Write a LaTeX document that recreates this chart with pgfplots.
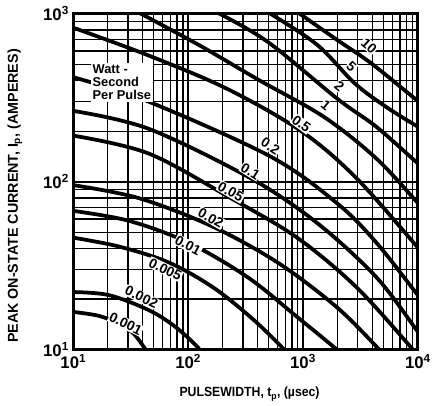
\documentclass[border=0pt]{standalone}
\usepackage{fontspec}
\setmainfont{Liberation Sans}
\usepackage{pgfplots}
\pgfplotsset{compat=1.18}
\usetikzlibrary{calc}
\pgfplotsset{curve/.style={black, solid, mark=none, line width=3.8bp, smooth, tension=0.55}}

\begin{document}
\begin{tikzpicture}
\begin{axis}[
    name=ax,
    scale only axis,
    width=348bp, height=339bp,
    xmode=log, ymode=log,
    xmin=10, xmax=10000, ymin=10, ymax=1000,
    grid=both,
    major grid style={black, line width=1.8bp},
    minor grid style={black, line width=1.3bp},
    axis line style={line width=2.8bp},
    major tick length=0pt, minor tick length=0pt,
    xtick={10,100,1000,10000},
    ytick={10,100,1000},
    xticklabels={10\textsuperscript{1},10\textsuperscript{2},10\textsuperscript{3},10\textsuperscript{4}},
    yticklabels={10\textsuperscript{1},10\textsuperscript{2},10\textsuperscript{3}},
    ticklabel style={font=\bfseries\fontsize{17}{17}\selectfont},
    xticklabel style={yshift=-1bp},
    yticklabel style={xshift=-1bp},
    clip=true,
]
% 10 W-s
\addplot[curve] coordinates {(887.9,1027.5) (1964.5,702.3) (3933,507.0) (10000,302.6) (12000,280)};
% 5
\addplot[curve] coordinates {(489.5,1027.5) (1320.6,656.4) (2807.8,386.4) (5298,278.8) (10000,212.5) (12000,198)};
% 2
\addplot[curve] coordinates {(174.3,1027.5) (489.5,683.4) (2003.9,310.9) (4344,212.5) (10000,128.6) (12000,118)};
% 1
\addplot[curve] coordinates {(30,1100) (122.0,656.4) (401.2,407.9) (1517.3,243.5) (4344,137.6) (10000,74.7) (12000,66)};
% 0.5
\addplot[curve] coordinates {(10,826.8) (45.22,565.1) (221.2,356.1) (980.4,198.6) (2921.4,104.9) (10000,40.5) (12000,35)};
% 0.2
\addplot[curve] coordinates {(10,419.2) (45.22,300) (519.4,141.4) (1964.5,74.7) (4344,43.4) (10000,21.1) (12000,18.5)};
% 0.1
\addplot[curve] coordinates {(10,264.1) (45.22,206.8) (349.3,104.9) (1320.6,56.9) (4344,27.0) (10000,12.77) (12000,11)};
% 0.05
\addplot[curve] coordinates {(10,188.1) (45.22,147.3) (234.9,79.9) (887.9,46.4) (2921.4,23.5) (9057,10) (10500,8.8)};
% 0.02
\addplot[curve] coordinates {(10,95.4) (37.07,79.9) (157.9,54.6) (596.9,33.1) (1964.5,17.9) (4612,10) (5400,8.8)};
% 0.01
\addplot[curve] coordinates {(10,67.0) (30.40,58.5) (100,43.4) (329.0,27.0) (887.9,15.65) (1964.5,10) (2300,8.8)};
% 0.005
\addplot[curve] coordinates {(10,46.4) (24.93,41.1) (67.24,33.1) (164.3,23.5) (363.4,15.24) (685.8,10) (800,8.8)};
% 0.002
\addplot[curve] coordinates {(10,22.0) (20.43,21.1) (45.22,17.2) (77.27,13.67) (122.0,10.27) (135,9)};
% 0.001
\addplot[curve] coordinates {(10,16.76) (16.75,15.87) (24.93,14.24) (33.57,12.43) (42.60,10) (46,9.2)};

\begin{scope}[every node/.style={font=\bfseries\fontsize{14}{14}\selectfont, fill=white, inner sep=0.8bp}]
\node[rotate=-42] at (rel axis cs:0.858,0.905) {10};
\node[rotate=-42] at (rel axis cs:0.807,0.843) {5};
\node[rotate=-40] at (rel axis cs:0.772,0.784) {2};
\node[rotate=-40] at (rel axis cs:0.733,0.728) {1};
\node[rotate=-36] at (rel axis cs:0.662,0.672) {0.5};
\node[rotate=-33] at (rel axis cs:0.572,0.606) {0.2};
\node[rotate=-32] at (rel axis cs:0.514,0.531) {0.1};
\node[rotate=-30] at (rel axis cs:0.457,0.470) {0.05};
\node[rotate=-30] at (rel axis cs:0.399,0.392) {0.02};
\node[rotate=-28] at (rel axis cs:0.333,0.310) {0.01};
\node[rotate=-26] at (rel axis cs:0.267,0.239) {0.005};
\node[rotate=-26] at (rel axis cs:0.198,0.156) {0.002};
\node[rotate=-26] at (rel axis cs:0.152,0.077) {0.001};
\end{scope}
\node[anchor=west, fill=white, align=left, inner sep=2bp,
      font=\bfseries\fontsize{13}{13}\selectfont] at (rel axis cs:0.050,0.796)
      {Watt -\\Second\\Per Pulse};
\end{axis}
\node[font=\bfseries\fontsize{13.5}{13.5}\selectfont] at ($(ax.south west)+(178bp,-45bp)$)
  {\scalebox{0.92}[1]{PULSEWIDTH, t\textsubscript{p}, (\textmu sec)}};
\node[rotate=90, font=\bfseries\fontsize{14.5}{14.5}\selectfont] at ($(ax.south west)+(-59bp,155bp)$)
  {PEAK ON-STATE CURRENT, I\textsubscript{p}, (AMPERES)};
\path[use as bounding box] ($(ax.south west)+(-74bp,-57bp)$) rectangle ++(434bp,410bp);
\end{tikzpicture}
\end{document}
